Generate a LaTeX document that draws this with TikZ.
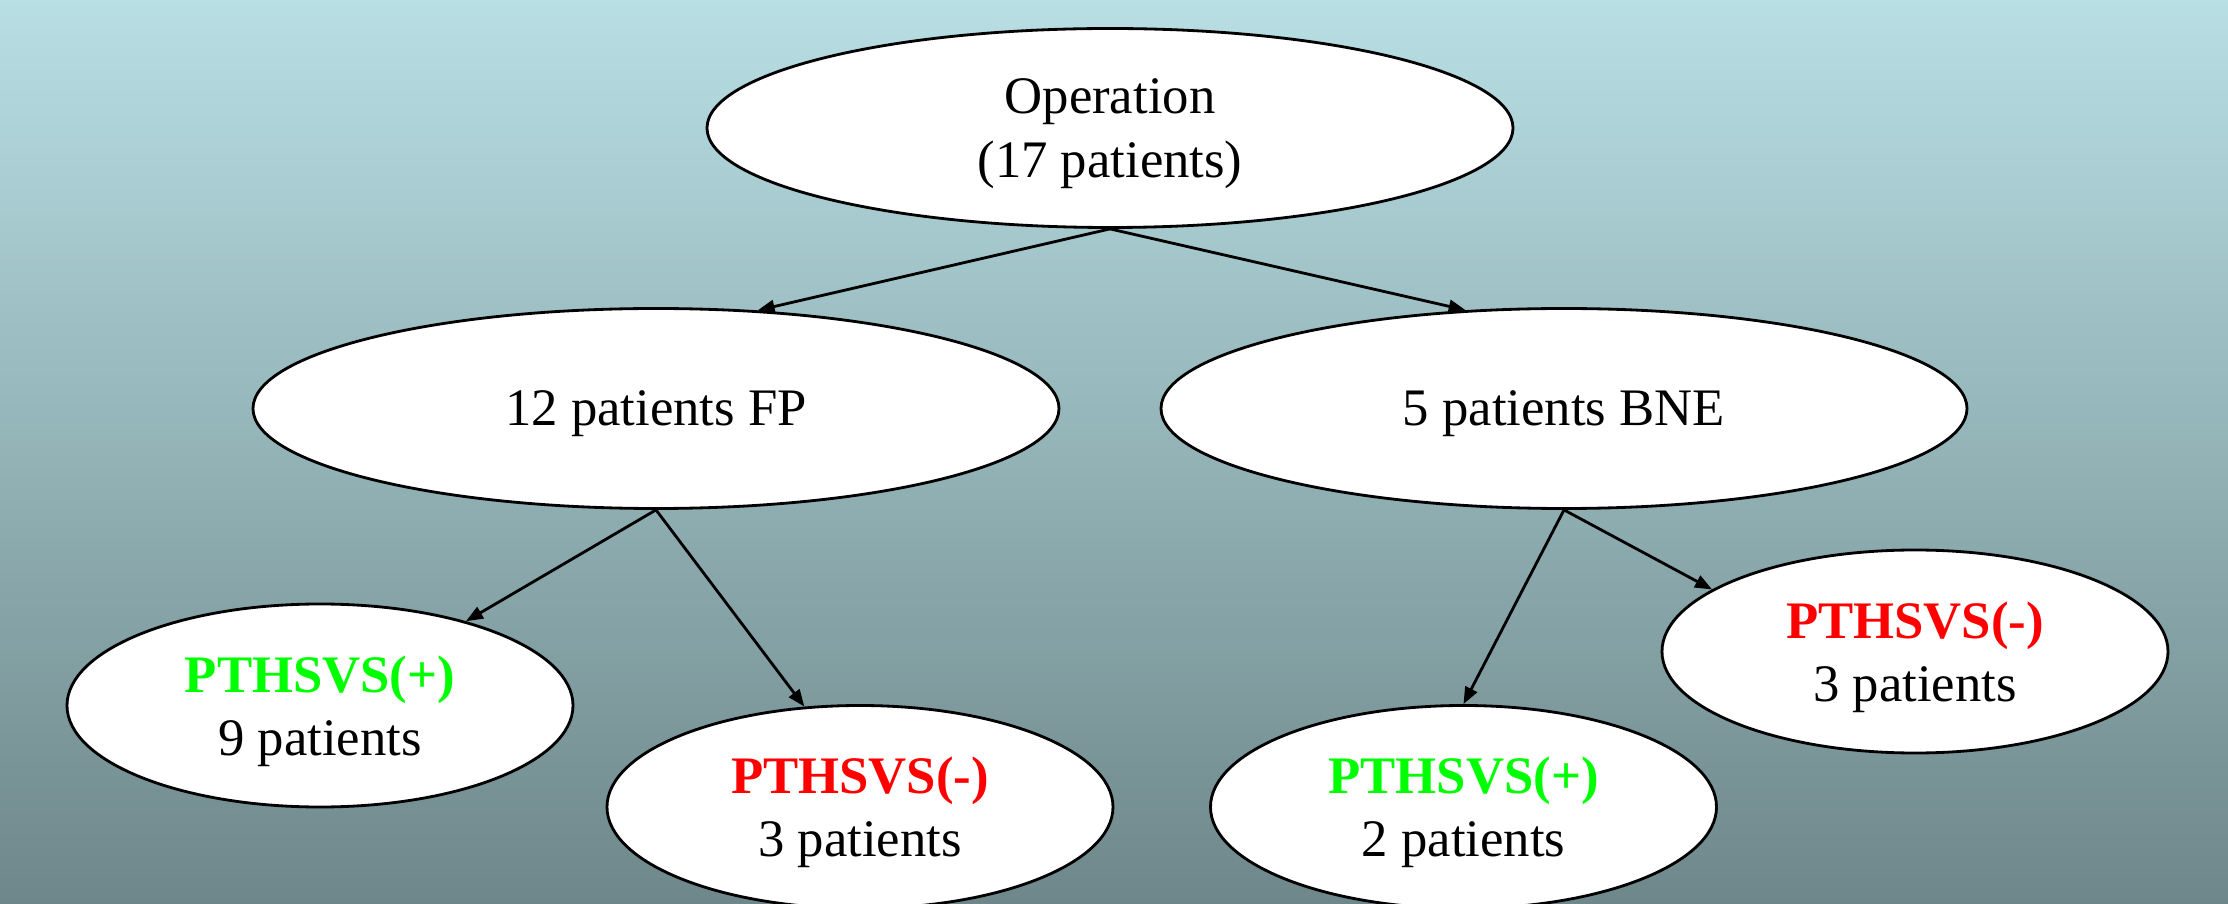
\documentclass[tikz,border=0pt]{standalone}
\usepackage{fontspec}
\setmainfont{Liberation Serif}
\usepackage{tikz}
\usetikzlibrary{arrows.meta,positioning,calc,shapes.geometric}
\definecolor{bgtop}{HTML}{B8DFE4}
\definecolor{bgbot}{HTML}{6E878A}
\definecolor{posgreen}{HTML}{00FF00}
\definecolor{negred}{HTML}{FF0000}
\tikzset{
  bigell/.style     = {draw=black, line width=0.8pt, ellipse, fill=white, inner sep=0pt,
                       minimum width=80.6mm, minimum height=20mm, align=center, text depth=0pt},
  smallell/.style   = {draw=black, line width=0.8pt, ellipse, fill=white, inner sep=0pt,
                       minimum width=50.6mm, minimum height=20.3mm, align=center, text depth=0pt},
  sig/.style        = {-{Triangle[length=1.7mm, width=1.3mm]}, line width=0.8pt},
  every node/.style = {font=\fontsize{15}{18}\selectfont},
}

\begin{document}
\begin{tikzpicture}
  \useasboundingbox (0,0) rectangle (22.28,9.03);
  \clip (0,0) rectangle (22.28,9.03);
  \shade[top color=bgtop, bottom color=bgbot] (0,0) rectangle (22.28,9.03);
  % top level
  \node[bigell, minimum height=19.9mm] (op) at (11.10,7.75) {Operation\\(17 patients)};
  \node[bigell] (fp) at (6.56,4.945) {12 patients FP};
  \node[bigell] (bne) at (15.64,4.945) {5 patients BNE};
  % outcomes
  \node[smallell] (fppos) at (3.20,1.975) {\textcolor{posgreen}{\bfseries PTHSVS(+)}\\9 patients};
  \node[smallell] (fpneg) at (8.60,0.96) {\textcolor{negred}{\bfseries PTHSVS(-)}\\3 patients};
  \node[smallell] (bnepos) at (14.635,0.96) {\textcolor{posgreen}{\bfseries PTHSVS(+)}\\2 patients};
  \node[smallell] (bneneg) at (19.15,2.515) {\textcolor{negred}{\bfseries PTHSVS(-)}\\3 patients};
  \draw[sig] (op.south) -- (fp.44);
  \draw[sig] (op.south) -- (bne.135);
  \draw[sig] (fp.south) -- (fppos.30);
  \draw[sig] (fp.south) -- (fpneg.119);
  \draw[sig] (bne.south) -- (bnepos.90);
  \draw[sig] (bne.south) -- (bneneg.163);
\end{tikzpicture}
\end{document}
